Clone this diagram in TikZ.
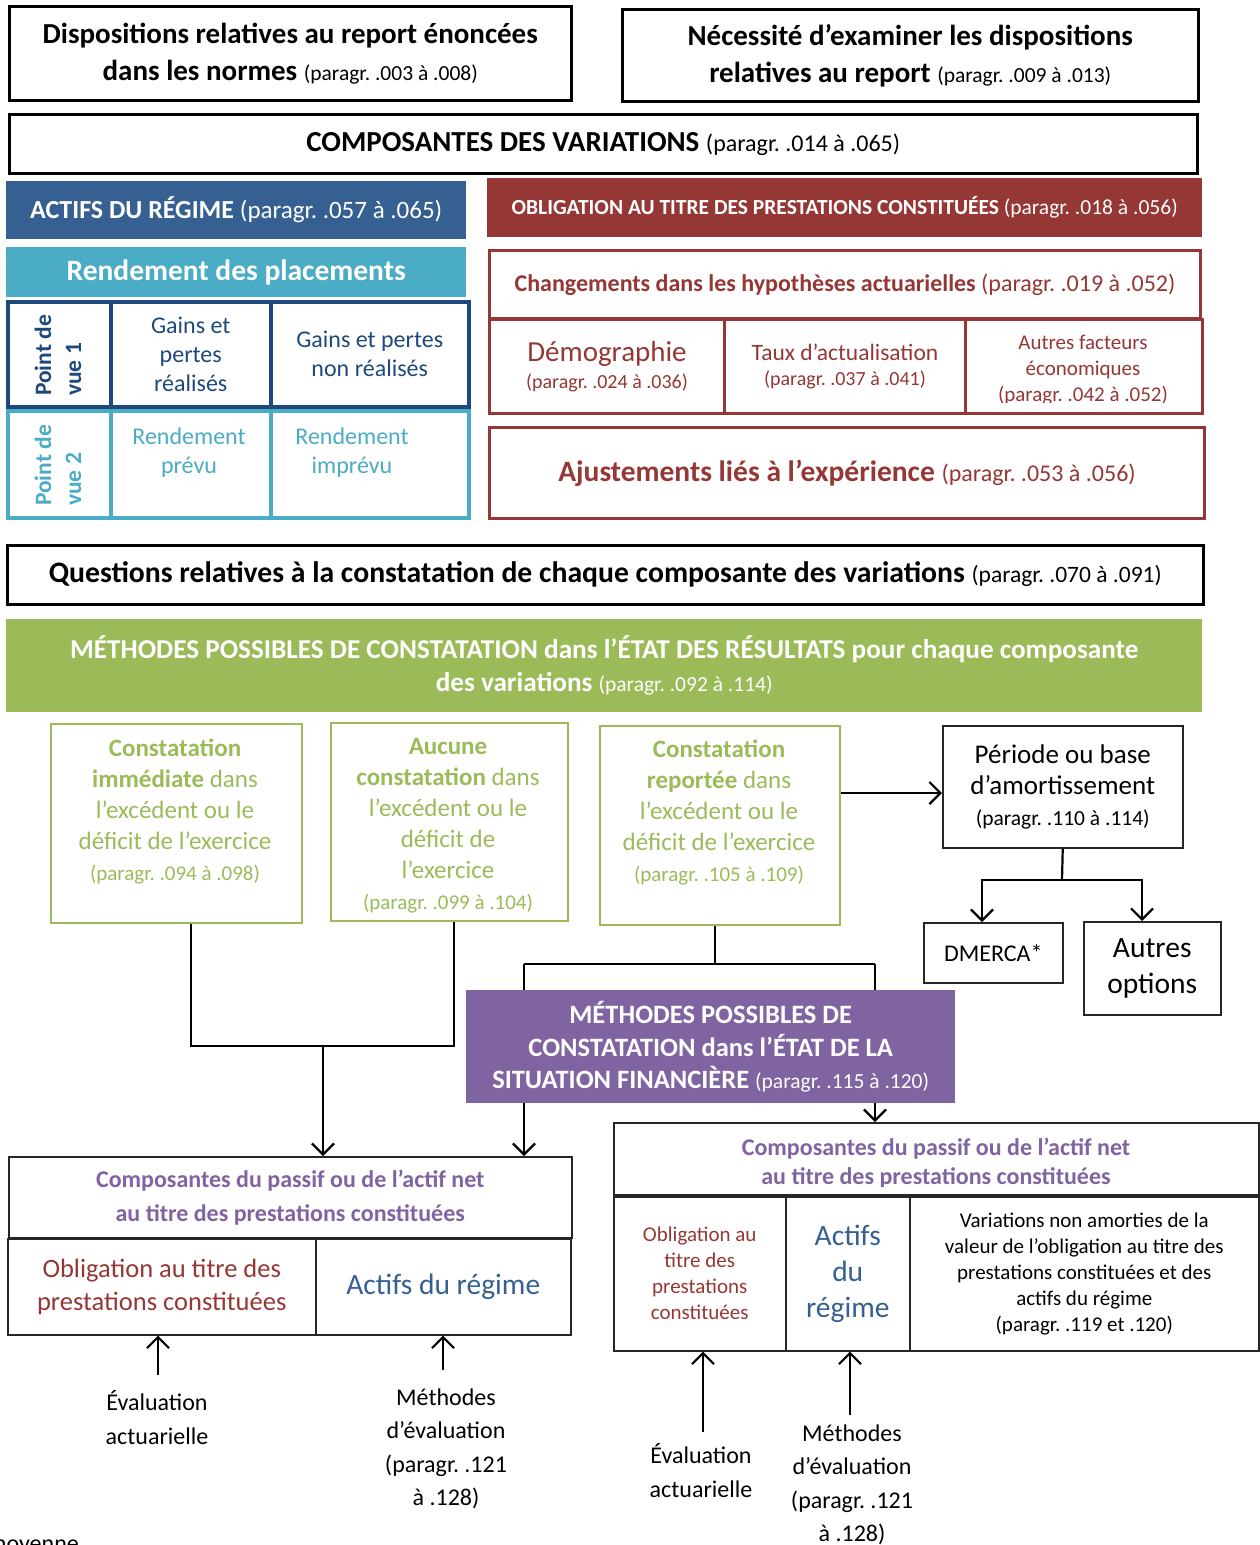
\documentclass[tikz,border=0pt]{standalone}
\usepackage{fontspec}
\setmainfont{Carlito}
\usetikzlibrary{arrows.meta}
\definecolor{dred}{HTML}{953735}
\definecolor{blu}{HTML}{366092}
\definecolor{dblu}{HTML}{1F497D}
\definecolor{tealc}{HTML}{4BACC6}
\definecolor{grn}{HTML}{9BBB59}
\definecolor{purp}{HTML}{8064A2}
\newcommand\fs[2]{\fontsize{#1}{#2}\selectfont}
\newcommand\mkbox[7][]{\node[bx,#1,minimum width={(#5)-(#3)},minimum height={(#6)-(#4)}] (#2) at (#3,#4) {#7};}
\tikzset{
  bx/.style={anchor=north west, inner sep=0pt, align=center},
  ln/.style={line width=2.2pt},
  arr/.style={line width=2.2pt,-{Straight Barb[length=11pt,width=22pt]}},
  blk/.style={draw=black, line width=2.5pt},
  thin/.style={draw=black!85, line width=1.5pt},
  redb/.style={draw=dred, line width=3pt, text=dred},
  grnb/.style={draw=grn, line width=1.5pt, text=grn},
  txt/.style={inner sep=0pt, align=center},
}
\begin{document}
\frenchspacing
\begin{tikzpicture}[x=1pt,y=-1pt]
\useasboundingbox (0,0) rectangle (1260,1545);
\fill[white] (0,0) rectangle (1260,1545);

% top boxes
\mkbox[blk,font=\fs{29}{37}\bfseries]{top1}{8}{5}{570}{99}{Dispositions relatives au report énoncées\\dans les normes {\mdseries\fs{21.5}{37}(paragr. .003 à .008)}}
\mkbox[blk,font=\fs{29}{37}\bfseries]{top2}{621}{8}{1197}{100}{Nécessité d’examiner les dispositions\\relatives au report {\mdseries\fs{21.5}{37}(paragr. .009 à .013)}}
\mkbox[blk,font=\fs{29}{30}\bfseries]{comp}{8}{113}{1196}{172}{COMPOSANTES DES VARIATIONS {\mdseries\fs{24}{30}(paragr. .014 à .065)}}

% plan assets side
\mkbox[fill=blu,text=white,font=\fs{26}{28}\bfseries]{actifs}{6}{181}{466}{239}{ACTIFS DU RÉGIME {\mdseries\fs{25}{28}(paragr. .057 à .065)}}
\mkbox[fill=tealc,text=white,font=\fs{29.5}{30}\bfseries]{rend}{6}{247}{466}{297}{\raisebox{-3pt}{Rendement des placements}}

\mkbox[draw=tealc,line width=3.5pt]{pv2}{6}{409}{109}{516}{}
\mkbox[draw=tealc,line width=3.5pt]{r1}{109}{409}{269}{516}{}
\mkbox[draw=tealc,line width=3.5pt]{r2}{269}{409}{467}{516}{}
\mkbox[draw=dblu,line width=3.5pt]{pv1}{6}{300}{109}{405}{}
\mkbox[draw=dblu,line width=3.5pt,text=dblu,font=\fs{24}{29}]{g1}{109}{300}{269}{405}{Gains et\\pertes\\réalisés}
\mkbox[draw=dblu,line width=3.5pt,text=dblu,font=\fs{24}{29}]{g2}{269}{300}{467}{405}{Gains et pertes\\non réalisés}
\node[rotate=90,anchor=west,align=left,inner sep=0pt,text=dblu,font=\fs{23.5}{30}\bfseries] (pv1t) at (58,396) {Point de\\vue 1};
\node[rotate=90,anchor=west,align=left,inner sep=0pt,text=tealc,font=\fs{23.5}{30}\bfseries] (pv2t) at (58,506) {Point de\\vue 2};
\node[txt,text=tealc,font=\fs{24}{29}] (r1t) at (189,453) {Rendement\\prévu};
\node[txt,text=tealc,font=\fs{24}{29}] (r2t) at (352,453) {Rendement\\imprévu};

% obligation side
\mkbox[fill=dred,text=white,font=\fs{21.5}{24}\bfseries]{oblig}{487}{178}{1202}{237}{OBLIGATION AU TITRE DES PRESTATIONS CONSTITUÉES {\mdseries(paragr. .018 à .056)}}
\mkbox[redb,font=\fs{24}{26}\bfseries]{chg}{488}{249}{1199}{317}{Changements dans les hypothèses actuarielles {\mdseries(paragr. .019 à .052)}}
\mkbox[redb,font=\fs{29}{30}]{demo}{488}{318}{723}{412}{\raisebox{-3pt}{Démographie}\\{\fs{20}{30}(paragr. .024 à .036)}}
\mkbox[redb,font=\fs{23.5}{27}]{taux}{723}{318}{964}{412}{\raisebox{-2pt}{Taux d’actualisation}\\{\fs{20}{27}(paragr. .037 à .041)}}
\mkbox[redb]{autres}{964}{318}{1201}{412}{}
\begin{scope}
\clip (966,320) rectangle (1199,402);
\node[txt,text=dred,font=\fs{21}{26}] (autrest) at (1083,370) {Autres facteurs\\économiques\\(paragr. .042 à .052)};
\end{scope}
\mkbox[redb,font=\fs{29.5}{30}\bfseries]{aj}{488}{426}{1203}{517}{Ajustements liés à l’expérience {\mdseries\fs{24}{30}(paragr. .053 à .056)}}

% questions
\mkbox[blk,font=\fs{29.7}{30}\bfseries]{quest}{6}{544}{1202}{603}{Questions relatives à la constatation de chaque composante des variations {\mdseries\fs{23.5}{30}(paragr. .070 à .091)}}
\mkbox[fill=grn,text=white,font=\fs{27.2}{33}\bfseries]{meth}{6}{619}{1202}{712}{MÉTHODES POSSIBLES DE CONSTATATION dans l’ÉTAT DES RÉSULTATS pour chaque composante\\des variations {\mdseries\fs{21.5}{33}(paragr. .092 à .114)}}

% green method boxes
\mkbox[grnb]{gA}{50}{723}{301}{922}{}
\node[txt,text=grn,font=\fs{25}{31}] (gAt) at (175,812) {\textbf{Constatation}\\\textbf{immédiate} dans\\l’excédent ou le\\déficit de l’exercice\\{\fs{21}{31}(paragr. .094 à .098)}};
\mkbox[grnb]{gB}{330}{722}{567}{920}{}
\node[txt,text=grn,font=\fs{25}{31}] (gBt) at (448,826) {\textbf{Aucune}\\\textbf{constatation} dans\\l’excédent ou le\\déficit de\\l’exercice\\{\fs{21}{31}(paragr. .099 à .104)}};
\mkbox[grnb]{gC}{599}{725}{839}{924}{}
\node[txt,text=grn,font=\fs{25}{31}] (gCt) at (719,813) {\textbf{Constatation}\\\textbf{reportée} dans\\l’excédent ou le\\déficit de l’exercice\\{\fs{21}{31}(paragr. .105 à .109)}};

\mkbox[thin,font=\fs{27}{31}]{per}{942}{725}{1182}{847}{Période ou base\\d’amortissement\\{\fs{21.5}{31}(paragr. .110 à .114)}}
\mkbox[thin,font=\fs{24}{26}]{dm}{923}{922}{1062}{982}{DMERCA*}
\mkbox[thin,font=\fs{29.5}{36}]{ao}{1083}{921}{1220}{1014}{\raisebox{-3pt}{Autres}\\\raisebox{-3pt}{options}}

% connector junctions
\coordinate (jA) at (191,1046);
\coordinate (jB) at (454,1046);
\coordinate (jM) at (323,1046);
\coordinate (jC) at (715,964);
\coordinate (jL) at (524,964);
\coordinate (jR) at (875,964);
\coordinate (pa) at (890,793);
\coordinate (jP) at (1062,880);
\coordinate (jD) at (982,880);
\coordinate (jO) at (1142,880);

% bottom boxes
\mkbox[thin,text=purp,font=\fs{24}{34}\bfseries]{cl}{8}{1156}{571}{1237}{Composantes du passif ou de l’actif net\\au titre des prestations constituées}
\mkbox[thin,text=dred,font=\fs{26.5}{33}]{ol}{7}{1238}{315}{1334}{Obligation au titre des\\prestations constituées}
\mkbox[thin,text=blu,font=\fs{29.5}{32}]{al}{315}{1238}{570}{1334}{Actifs du régime}

\mkbox[thin]{cr}{613}{1122}{1258}{1194}{}
\begin{scope}
\clip (615,1124) rectangle (1256,1186);
\node[txt,text=purp,font=\fs{24}{29}\bfseries] (crt) at (936,1163) {Composantes du passif ou de l’actif net\\au titre des prestations constituées};
\end{scope}
\mkbox[thin,text=dred,font=\fs{21}{26}]{orr}{613}{1196}{785}{1350}{Obligation au\\titre des\\prestations\\constituées}
\mkbox[thin,text=blu,font=\fs{29.5}{36}]{ar}{785}{1196}{909}{1350}{Actifs\\du\\régime}
\mkbox[thin,font=\fs{21}{26}]{vr}{909}{1196}{1258}{1350}{Variations non amorties de la\\valeur de l’obligation au titre des\\prestations constituées et des\\actifs du régime\\(paragr. .119 et .120)}

\draw[ln] (gA.south -| jA) -- (jA) -- (jB) -- (gB.south -| jB);
\draw[arr] (jM) -- (cl.north -| jM);
\draw[ln] (gC.south -| jC) -- (jC);
\draw[ln] (jL) -- (jR);
\draw[arr] (jL) -- (cl.north -| jL);
\draw[arr] (jR) -- (cr.north -| jR);
\draw[arr] (gC.east |- pa) -- (per.west |- pa);
\draw[ln] (per.south) -- (jP);
\draw[arr] (jP) -- (jD) -- (dm.north -| jD);
\draw[arr] (jP) -- (jO) -- (ao.north -| jO);

\mkbox[fill=purp,text=white,font=\fs{26.5}{33}\bfseries]{purple}{466}{990}{955}{1103}{\raisebox{-3pt}{MÉTHODES POSSIBLES DE}\\\raisebox{-3pt}{CONSTATATION dans l’ÉTAT DE LA}\\\raisebox{-2pt}{SITUATION FINANCIÈRE {\mdseries\fs{21.5}{33}(paragr. .115 à .120)}}}

% labels and up arrows
\node[txt,font=\fs{24}{34}] (ev1) at (157,1418) {Évaluation\\actuarielle};
\node[txt,font=\fs{24}{33.5}] (me1) at (446,1449) {Méthodes\\d’évaluation\\(paragr. .121\\à .128)};
\node[txt,font=\fs{24}{34}] (ev2) at (701,1471) {Évaluation\\actuarielle};
\node[txt,font=\fs{24}{33.5}] (me2) at (852,1485) {Méthodes\\d’évaluation\\(paragr. .121\\à .128)};
\coordinate (t1) at (158,1375);
\coordinate (t2) at (443,1370);
\coordinate (t3) at (703,1432);
\coordinate (t4) at (850,1415);
\draw[arr] (t1) -- (t1 |- ol.south);
\draw[arr] (t2) -- (t2 |- al.south);
\draw[arr] (t3) -- (t3 |- orr.south);
\draw[arr] (t4) -- (t4 |- ar.south);

\node[anchor=base east,inner sep=0pt,font=\fs{24}{25}] (moy) at (79,1551) {moyenne};
\end{tikzpicture}
\end{document}
